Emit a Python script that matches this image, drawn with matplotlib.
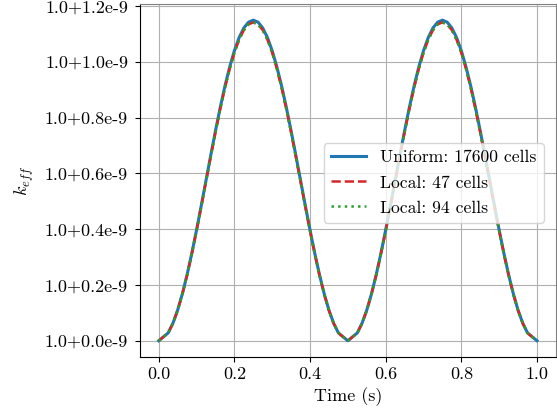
import matplotlib
matplotlib.use("Agg")
import matplotlib.pyplot as plt

# time samples (s)
time = [0.0000, 0.0250, 0.0375, 0.0500, 0.0625, 0.0750, 0.0875, 0.1000, 0.1125, 0.1250,
        0.1375, 0.1500, 0.1625, 0.1750, 0.1875, 0.2000, 0.2125, 0.2250, 0.2375, 0.2500,
        0.2625, 0.2750, 0.2875, 0.3000, 0.3125, 0.3250, 0.3375, 0.3500, 0.3625, 0.3750,
        0.3875, 0.4000, 0.4125, 0.4250, 0.4375, 0.4500, 0.4625, 0.4750, 0.5000,
        0.5250, 0.5375, 0.5500, 0.5625, 0.5750, 0.5875, 0.6000, 0.6125, 0.6250,
        0.6375, 0.6500, 0.6625, 0.6750, 0.6875, 0.7000, 0.7125, 0.7250, 0.7375, 0.7500,
        0.7625, 0.7750, 0.7875, 0.8000, 0.8125, 0.8250, 0.8375, 0.8500, 0.8625, 0.8750,
        0.8875, 0.9000, 0.9125, 0.9250, 0.9375, 0.9500, 0.9625, 0.9750, 1.0000]

# k_eff - 1.0, in units of 1e-9
uniform_17600 = [0.0000, 0.0281, 0.0627, 0.1098, 0.1684, 0.2370, 0.3140, 0.3973, 0.4850, 0.5750,
                 0.6650, 0.7527, 0.8361, 0.9130, 0.9816, 1.0402, 1.0873, 1.1219, 1.1429, 1.1500,
                 1.1429, 1.1219, 1.0873, 1.0402, 0.9816, 0.9130, 0.8361, 0.7527, 0.6650, 0.5750,
                 0.4850, 0.3973, 0.3140, 0.2370, 0.1684, 0.1098, 0.0627, 0.0281, 0.0000,
                 0.0281, 0.0627, 0.1098, 0.1684, 0.2370, 0.3140, 0.3973, 0.4850, 0.5750,
                 0.6650, 0.7527, 0.8361, 0.9130, 0.9816, 1.0402, 1.0873, 1.1219, 1.1429, 1.1500,
                 1.1429, 1.1219, 1.0873, 1.0402, 0.9816, 0.9130, 0.8361, 0.7527, 0.6650, 0.5750,
                 0.4850, 0.3973, 0.3140, 0.2370, 0.1684, 0.1098, 0.0627, 0.0281, 0.0000]
local_47 = [0.0000, 0.0279, 0.0623, 0.1090, 0.1672, 0.2353, 0.3118, 0.3945, 0.4816, 0.5710,
            0.6604, 0.7474, 0.8303, 0.9066, 0.9747, 1.0330, 1.0797, 1.1140, 1.1349, 1.1420,
            1.1349, 1.1140, 1.0797, 1.0330, 0.9747, 0.9066, 0.8303, 0.7474, 0.6604, 0.5710,
            0.4816, 0.3945, 0.3118, 0.2353, 0.1672, 0.1090, 0.0623, 0.0279, 0.0000,
            0.0279, 0.0623, 0.1090, 0.1672, 0.2353, 0.3118, 0.3945, 0.4816, 0.5710,
            0.6604, 0.7474, 0.8303, 0.9066, 0.9747, 1.0330, 1.0797, 1.1140, 1.1349, 1.1420,
            1.1349, 1.1140, 1.0797, 1.0330, 0.9747, 0.9066, 0.8303, 0.7474, 0.6604, 0.5710,
            0.4816, 0.3945, 0.3118, 0.2353, 0.1672, 0.1090, 0.0623, 0.0279, 0.0000]
local_94 = [0.0000, 0.0279, 0.0623, 0.1090, 0.1672, 0.2353, 0.3118, 0.3945, 0.4816, 0.5710,
            0.6604, 0.7474, 0.8303, 0.9066, 0.9747, 1.0330, 1.0797, 1.1140, 1.1349, 1.1420,
            1.1349, 1.1140, 1.0797, 1.0330, 0.9747, 0.9066, 0.8303, 0.7474, 0.6604, 0.5710,
            0.4816, 0.3945, 0.3118, 0.2353, 0.1672, 0.1090, 0.0623, 0.0279, 0.0000,
            0.0279, 0.0623, 0.1090, 0.1672, 0.2353, 0.3118, 0.3945, 0.4816, 0.5710,
            0.6604, 0.7474, 0.8303, 0.9066, 0.9747, 1.0330, 1.0797, 1.1140, 1.1349, 1.1420,
            1.1349, 1.1140, 1.0797, 1.0330, 0.9747, 0.9066, 0.8303, 0.7474, 0.6604, 0.5710,
            0.4816, 0.3945, 0.3118, 0.2353, 0.1672, 0.1090, 0.0623, 0.0279, 0.0000]

labels = ["Uniform: 17600 cells", "Local: 47 cells", "Local: 94 cells"]
ytick_vals = [0.0, 0.2, 0.4, 0.6, 0.8, 1.0, 1.2]
ytick_labels = ["1.0+0.0e-9", "1.0+0.2e-9", "1.0+0.4e-9", "1.0+0.6e-9",
                "1.0+0.8e-9", "1.0+1.0e-9", "1.0+1.2e-9"]
xtick_vals = [0.0, 0.2, 0.4, 0.6, 0.8, 1.0]

plt.rcParams['font.family'] = ['cmr10', 'DejaVu Serif']
plt.rcParams['mathtext.fontset'] = 'cm'
plt.rcParams['axes.formatter.use_mathtext'] = True
plt.rcParams['font.size'] = 13

fig = plt.figure(figsize=(5.57, 4.12), dpi=100)
ax = fig.add_axes([0.251, 0.134, 0.747, 0.856])

ax.plot(time, uniform_17600, color='#1f77b4', lw=2.2, ls='-', label=labels[0])
ax.plot(time, local_47, color='#d62728', lw=1.8, ls='--', label=labels[1])
ax.plot(time, local_94, color='#2ca02c', lw=1.8, ls=':', label=labels[2])

ax.set_xlim(-0.05, 1.05)
ax.set_ylim(-0.0575, 1.2075)
ax.set_xticks(xtick_vals)
ax.set_xticklabels([f"{v:.1f}" for v in xtick_vals])
ax.set_yticks(ytick_vals)
ax.set_yticklabels(ytick_labels)
ax.tick_params(axis='y', pad=5)
ax.grid(True, color='#b0b0b0', lw=0.8)
ax.set_axisbelow(True)
for s in ['top', 'right']:
    ax.spines[s].set_color('#808080')

ax.set_xlabel("Time (s)", labelpad=4)
ax.set_ylabel(r"$k_{eff}$", labelpad=6)

ax.legend(loc='upper left', bbox_to_anchor=(0.4426, 0.606), borderaxespad=0,
          fontsize=12.7, labelspacing=0.55)

fig.savefig("out.png", dpi=100)
